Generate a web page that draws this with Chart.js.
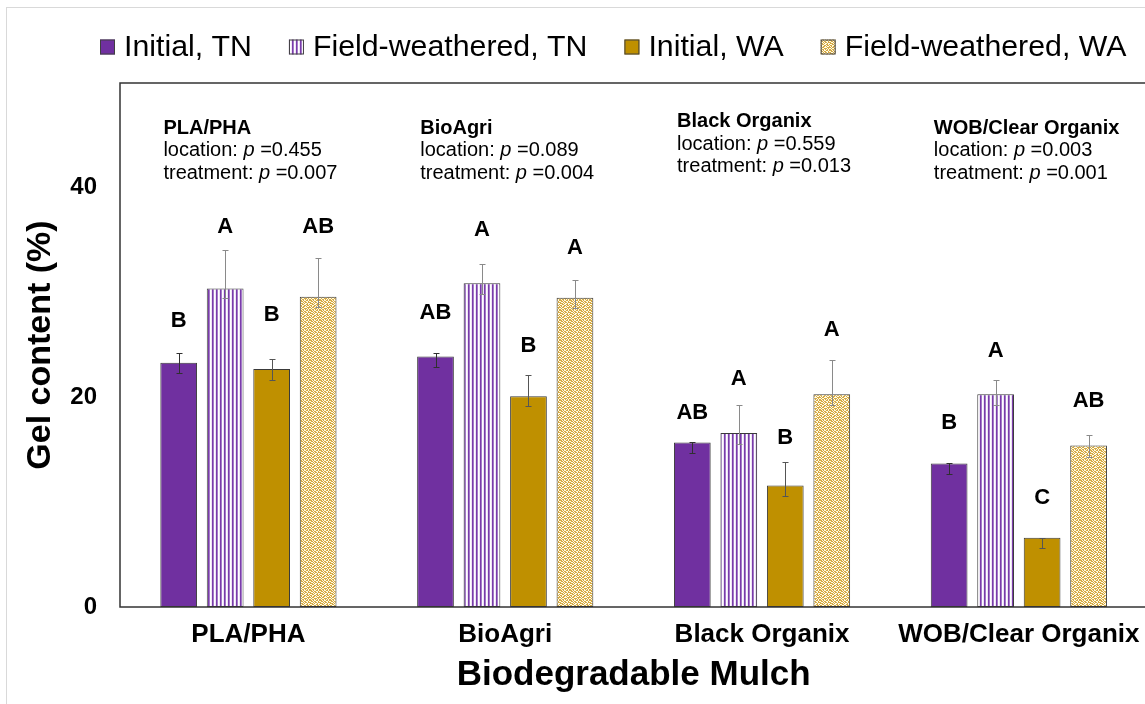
<!DOCTYPE html>
<html>
<head>
<meta charset="utf-8">
<title>Gel content of biodegradable mulches</title>
<script src="https://cdn.jsdelivr.net/npm/chart.js@4.4.1/dist/chart.umd.min.js"></script>
<style>
  html, body { margin: 0; padding: 0; background: #fff; overflow: hidden; }
  #wrap { position: relative; width: 1145px; height: 704px; overflow: hidden; }
  canvas { display: block; }
</style>
</head>
<body>
<div id="wrap"><canvas id="gel" width="1152" height="704"></canvas></div>
<script>
// ---- data ----
const categories = ['PLA/PHA', 'BioAgri', 'Black Organix', 'WOB/Clear Organix'];
const seriesNames = ['Initial, TN', 'Field-weathered, TN', 'Initial, WA', 'Field-weathered, WA'];

const initialTN    = [23.3, 23.9, 15.7, 13.7];
const weatheredTN  = [30.4, 30.9, 16.6, 20.3];
const initialWA    = [22.7, 20.1, 11.6, 6.6];
const weatheredWA  = [29.6, 29.5, 20.3, 15.4];

// error bar extents (upper / lower)
const initialTNPlus   = [0.95, 0.3, 0.0, 0.0];
const weatheredTNPlus = [3.7, 1.8, 2.7, 1.35];
const initialWAPlus   = [1.0, 2.0, 2.2, 0.0];
const weatheredWAPlus = [3.7, 1.75, 3.3, 1.05];
const initialTNMinus   = [0.95, 1.0, 1.0, 1.05];
const weatheredTNMinus = [0.95, 1.05, 1.05, 1.05];
const initialWAMinus   = [1.0, 0.95, 1.0, 1.0];
const weatheredWAMinus = [1.0, 0.95, 1.0, 1.05];

// mean separation letters
const initialTNLetters   = ['B', 'AB', 'AB', 'B'];
const weatheredTNLetters = ['A', 'A', 'A', 'A'];
const initialWALetters   = ['B', 'B', 'B', 'C'];
const weatheredWALetters = ['AB', 'A', 'A', 'AB'];

// two-way ANOVA p values per mulch
const locationP  = ['0.455', '0.089', '0.559', '0.003'];
const treatmentP = ['0.007', '0.004', '0.013', '0.001'];

const yTicks = [0, 20, 40];

// ---- styling ----
const FONT = "'Liberation Sans', Arial, Helvetica, sans-serif";
const PURPLE = '#7030A0';
const GOLD = '#BF9000';

function stripePattern() {
  const cv = document.createElement('canvas');
  cv.width = 4; cv.height = 4;
  const g = cv.getContext('2d');
  const cols = ['#7A3CAA', '#A47BC8', '#FFFFFF', '#EDE3F5'];
  cols.forEach((col, i) => { g.fillStyle = col; g.fillRect(i, 0, 1, 4); });
  return g.createPattern(cv, 'repeat');
}

function speckPattern() {
  // confetti tile
  const rows = [
    '1101001101',
    '0110110010',
    '1001011011',
    '1110100100',
    '0011001101',
    '1100110110',
    '0101101001',
    '1011000111',
    '0100111010',
    '1011010101'
  ];
  const cv = document.createElement('canvas');
  cv.width = 10; cv.height = 10;
  const g = cv.getContext('2d');
  rows.forEach((r, y) => {
    for (let x = 0; x < r.length; x++) {
      g.fillStyle = r[x] === '1' ? '#D6AA42' : '#FFFAE8';
      g.fillRect(x, y, 1, 1);
    }
  });
  return g.createPattern(cv, 'repeat');
}

const fills = [PURPLE, stripePattern(), GOLD, speckPattern()];
const values = [initialTN, weatheredTN, initialWA, weatheredWA];
const plusErr = [initialTNPlus, weatheredTNPlus, initialWAPlus, weatheredWAPlus];
const minusErr = [initialTNMinus, weatheredTNMinus, initialWAMinus, weatheredWAMinus];
const letterSets = [initialTNLetters, weatheredTNLetters, initialWALetters, weatheredWALetters];

// ---- plugins ----
const framePlugin = {
  id: 'frame',
  beforeDraw(chart) {
    const c = chart.ctx;
    c.save();
    c.strokeStyle = '#D9D9D9';
    c.lineWidth = 1;
    c.strokeRect(6.5, 7.5, 3000, 3000);
    c.restore();
  },
  afterDatasetsDraw(chart) {
    const a = chart.chartArea;
    const c = chart.ctx;
    c.save();
    c.strokeStyle = '#333333';
    c.lineWidth = 1.5;
    c.strokeRect(a.left, a.top, a.right - a.left + 20, a.bottom - a.top);
    c.restore();
  }
};

const errorBarPlugin = {
  id: 'errorBars',
  afterDatasetsDraw(chart, args, opts) {
    const c = chart.ctx;
    const y = chart.scales.y;
    c.save();
    c.lineWidth = 1;
    chart.data.datasets.forEach((ds, di) => {
      const meta = chart.getDatasetMeta(di);
      c.strokeStyle = opts.colors[di];
      meta.data.forEach((bar, i) => {
        const v = ds.data[i];
        const top = Math.round(y.getPixelForValue(v + plusErr[di][i])) + 0.5;
        const bot = Math.round(y.getPixelForValue(v - minusErr[di][i])) + 0.5;
        const x = Math.round(bar.x) + 0.5;
        c.beginPath();
        c.moveTo(x, top); c.lineTo(x, bot);
        c.moveTo(x - opts.cap, top); c.lineTo(x + opts.cap, top);
        c.moveTo(x - opts.cap, bot); c.lineTo(x + opts.cap, bot);
        c.stroke();
      });
    });
    c.restore();
  }
};

const letterPlugin = {
  id: 'letters',
  afterDatasetsDraw(chart, args, opts) {
    const c = chart.ctx;
    const y = chart.scales.y;
    c.save();
    c.font = `bold ${opts.size}px ${FONT}`;
    c.fillStyle = '#000';
    c.textAlign = 'center';
    c.textBaseline = 'middle';
    chart.data.datasets.forEach((ds, di) => {
      const meta = chart.getDatasetMeta(di);
      meta.data.forEach((bar, i) => {
        c.fillText(letterSets[di][i], bar.x, y.getPixelForValue(opts.levels[di][i]));
      });
    });
    c.restore();
  }
};

const notesPlugin = {
  id: 'notes',
  afterDraw(chart, args, opts) {
    const c = chart.ctx;
    const xs = chart.scales.x, ys = chart.scales.y;
    c.save();
    c.fillStyle = '#000';
    c.textAlign = 'left';
    c.textBaseline = 'middle';
    const regular = `${opts.size}px ${FONT}`;
    const italic = `italic ${opts.size}px ${FONT}`;
    const bold = `bold ${opts.size}px ${FONT}`;
    const line = (x, yy, lead, val) => {
      c.font = regular; c.fillText(lead, x, yy);
      let px = x + c.measureText(lead).width;
      c.font = italic; c.fillText('p', px, yy);
      px += c.measureText('p').width;
      c.font = regular; c.fillText(' =' + val, px, yy);
    };
    categories.forEach((name, i) => {
      const x = xs.getPixelForValue(i) + opts.dx;
      const y0 = ys.getPixelForValue(opts.levels[i]);
      c.font = bold; c.fillText(name, x, y0);
      line(x, y0 + opts.lineGap, 'location: ', locationP[i]);
      line(x, y0 + 2 * opts.lineGap, 'treatment: ', treatmentP[i]);
    });
    c.restore();
  }
};

const legendPlugin = {
  id: 'legendRow',
  afterDraw(chart, args, o) {
    const c = chart.ctx;
    c.save();
    c.font = `${o.size}px ${FONT}`;
    c.textBaseline = 'middle';
    c.textAlign = 'left';
    let x = o.x;
    chart.data.datasets.forEach(ds => {
      c.fillStyle = ds.backgroundColor;
      c.fillRect(x, o.y - o.box / 2, o.box, o.box);
      c.strokeStyle = '#404040';
      c.lineWidth = 1;
      c.strokeRect(x + 0.5, o.y - o.box / 2 + 0.5, o.box - 1, o.box - 1);
      c.fillStyle = '#000';
      c.fillText(ds.label, x + o.box + o.gap, o.y + 1);
      x += o.box + o.gap + c.measureText(ds.label).width + o.spacing;
    });
    c.restore();
  }
};

// ---- chart ----
Chart.defaults.font.family = FONT;
Chart.defaults.color = '#000';

new Chart(document.getElementById('gel').getContext('2d'), {
  type: 'bar',
  data: {
    labels: categories,
    datasets: seriesNames.map((name, i) => ({
      label: name,
      data: values[i],
      backgroundColor: fills[i],
      borderColor: '#3A3A3A',
      borderWidth: 1,
      borderSkipped: false
    }))
  },
  options: {
    responsive: false,
    animation: false,
    layout: { padding: { top: 83, right: 4, left: 0, bottom: 0 } },
    datasets: { bar: { categoryPercentage: 0.724, barPercentage: 0.79 } },
    plugins: {
      legend: { display: false },
      tooltip: { enabled: false },
      errorBars: { cap: 3, colors: ['#303030', '#8A8A8A', '#555555', '#8A8A8A'] },
      letters: {
        size: 22,
        levels: [
          [27.3, 28.1, 18.5, 17.6],
          [36.3, 36.0, 21.8, 24.4],
          [27.9, 24.9, 16.1, 10.4],
          [36.3, 34.3, 26.4, 19.7]
        ]
      },
      notes: { size: 20, dx: -85, lineGap: 22.5, levels: [45.7, 45.7, 46.3, 45.7] },
      legendRow: { x: 100, y: 47, box: 15, gap: 9, spacing: 37, size: 30.3 }
    },
    scales: {
      x: {
        grid: { display: false, drawTicks: false },
        border: { display: false },
        ticks: { font: { size: 26, weight: 'bold' }, color: '#000', padding: 12 },
        title: {
          display: true, text: 'Biodegradable Mulch',
          font: { size: 35, weight: 'bold' }, color: '#000',
          padding: { top: 0, bottom: 8 }
        },
        afterFit(s) { s.height = 97; }
      },
      y: {
        min: 0, max: 50,
        grid: { display: false, drawTicks: false },
        border: { display: false },
        afterBuildTicks(s) { s.ticks = yTicks.map(v => ({ value: v })); },
        ticks: { font: { size: 24, weight: 'bold' }, color: '#000', padding: 23 },
        title: {
          display: true, text: 'Gel content (%)',
          font: { size: 34, weight: 'bold' }, color: '#000',
          padding: { top: 20, bottom: 0 }
        },
        afterFit(s) { s.width = 120; }
      }
    }
  },
  plugins: [framePlugin, errorBarPlugin, letterPlugin, notesPlugin, legendPlugin]
});
</script>
</body>
</html>
